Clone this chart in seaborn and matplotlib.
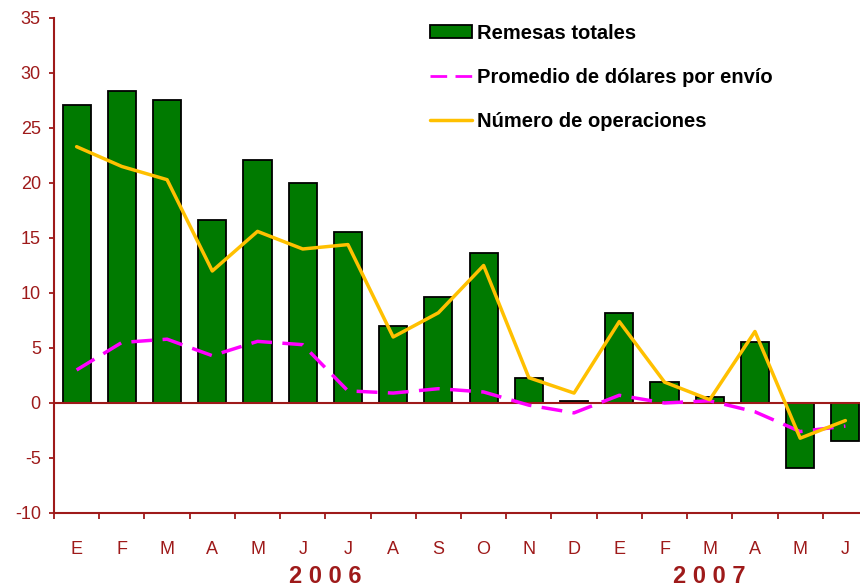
import matplotlib
matplotlib.use("Agg")
import matplotlib.pyplot as plt
import numpy as np
import pandas as pd
import seaborn as sns
from matplotlib.lines import Line2D
from matplotlib.patches import Patch

# month initials, Jan 2006 .. Jun 2007
months = ["E", "F", "M", "A", "M", "J", "J", "A", "S", "O", "N", "D",
          "E", "F", "M", "A", "M", "J"]
years = ["2 0 0 6", "2 0 0 7"]
year_pos = [5.5, 14.0]

# annual % change
remesas = [27.1, 28.4, 27.5, 16.6, 22.1, 20.0, 15.5, 7.0, 9.6, 13.6, 2.3, 0.2,
           8.2, 1.9, 0.5, 5.5, -5.9, -3.5]
promedio = [3.0, 5.5, 5.8, 4.3, 5.6, 5.3, 1.1, 0.9, 1.3, 1.0, -0.2, -0.9,
            0.7, 0.0, 0.2, -0.8, -2.6, -2.1]
operaciones = [23.3, 21.5, 20.3, 12.0, 15.6, 14.0, 14.4, 6.0, 8.2, 12.5, 2.3, 0.9,
               7.4, 1.9, 0.3, 6.5, -3.2, -1.6]

labels = ["Remesas totales", "Promedio de dólares por envío", "Número de operaciones"]

RED = "#9E1A1A"
GREEN = "#007A00"
MAGENTA = "#FF00FF"
GOLD = "#FFC000"

df = pd.DataFrame({
    "pos": np.arange(len(months)),
    "remesas": remesas,
    "promedio": promedio,
    "operaciones": operaciones,
})

sns.set_style("white")
plt.rcParams["font.family"] = ["Liberation Sans", "DejaVu Sans"]
plt.rcParams["axes.unicode_minus"] = False

fig = plt.figure(figsize=(8.6, 5.88), dpi=100)
ax = fig.add_axes([0.0628, 0.1276, 0.9465, 0.8418])

sns.barplot(data=df, x="pos", y="remesas", color=GREEN, saturation=1,
            width=0.62, edgecolor="black", linewidth=1.3, ax=ax)
ax.axhline(0, color=RED, lw=1.5, zorder=2)
sns.lineplot(data=df, x="pos", y="promedio", color=MAGENTA, lw=2.5,
             dashes=False, ax=ax, zorder=3).lines[-1].set_linestyle((0, (6, 3)))
sns.lineplot(data=df, x="pos", y="operaciones", color=GOLD, lw=2.5, ax=ax, zorder=4)

ax.set_xlim(-0.5, 17.5)
ax.set_ylim(-10, 35)
ax.set_xlabel("")
ax.set_ylabel("")

for side in ["top", "right"]:
    ax.spines[side].set_visible(False)
for side in ["left", "bottom"]:
    ax.spines[side].set_color(RED)
    ax.spines[side].set_linewidth(1.5)

ax.set_yticks(np.arange(-10, 36, 5))
ax.tick_params(axis="y", colors=RED, labelsize=13, length=3.5, width=1.3,
               pad=6, direction="out", left=True)

ax.set_xticks(np.arange(-0.5, 18, 1))
ax.set_xticklabels([])
ax.tick_params(axis="x", which="major", colors=RED, length=4.5, width=1.3,
               direction="out", bottom=True)
ax.set_xticks(df["pos"], minor=True)
ax.set_xticklabels(months, minor=True)
ax.tick_params(axis="x", which="minor", length=0, pad=20, labelsize=13,
               labelcolor=RED)

for yr, xp in zip(years, year_pos):
    ax.text(xp, -15.8, yr, ha="center", va="center", fontsize=17,
            fontweight="bold", color=RED, clip_on=False)

handles = [
    Patch(facecolor=GREEN, edgecolor="black", linewidth=1.3),
    Line2D([], [], color=MAGENTA, lw=2, linestyle=(0, (6, 3))),
    Line2D([], [], color=GOLD, lw=2.5),
]
leg = fig.legend(handles, labels, loc="upper left", bbox_to_anchor=(0.5, 0.96),
                 frameon=False, borderpad=0, borderaxespad=0, handlelength=2.1,
                 handleheight=0.6, handletextpad=0.25, labelspacing=1.25,
                 labelcolor="black", prop={"weight": "bold", "size": 14.5})

fig.savefig("out.png", dpi=100)
